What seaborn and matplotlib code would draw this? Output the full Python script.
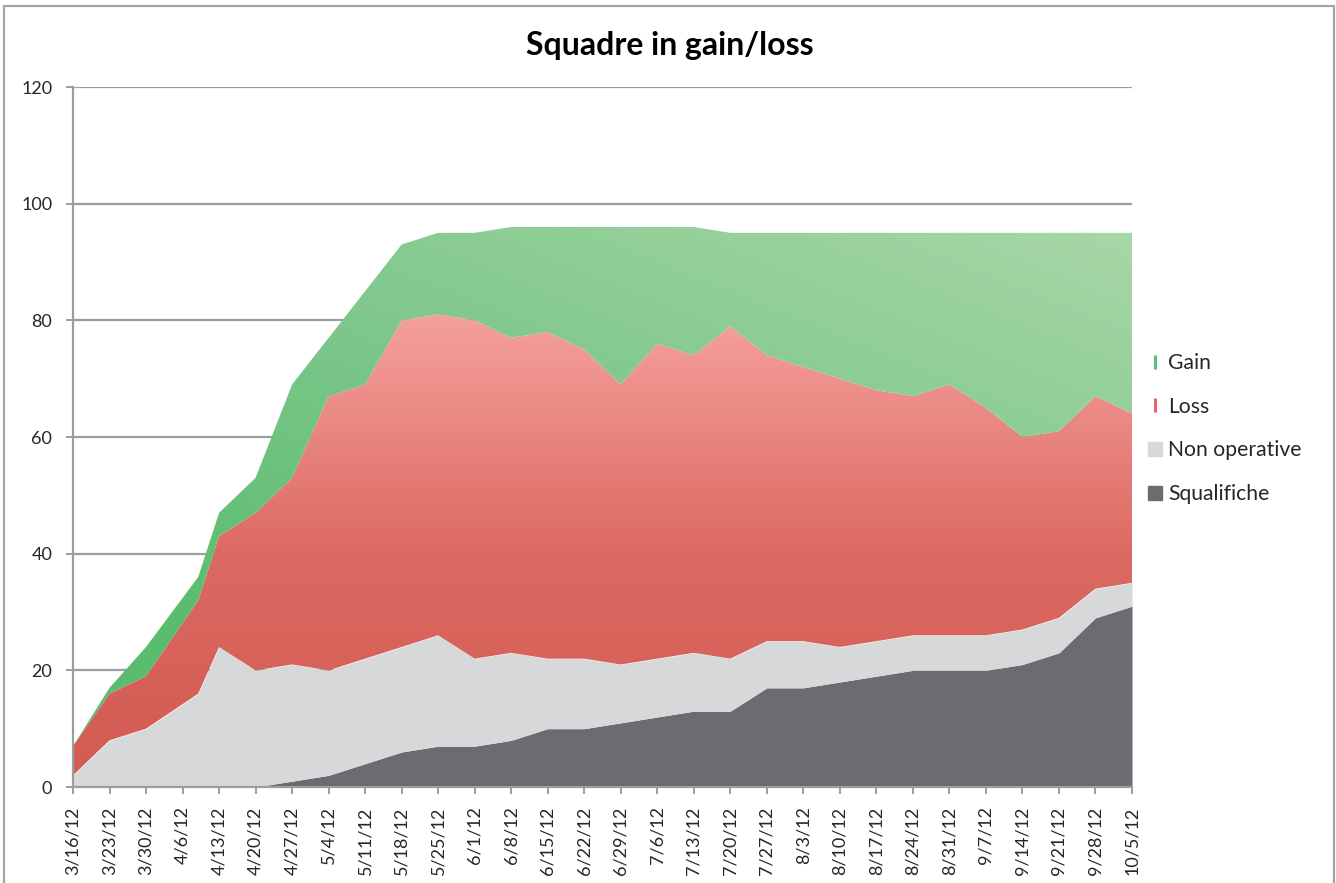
import numpy as np
import pandas as pd
import matplotlib
matplotlib.use("Agg")
import matplotlib.pyplot as plt
import matplotlib.dates as mdates
from matplotlib.colors import LinearSegmentedColormap
from matplotlib.lines import Line2D
from matplotlib.patches import Rectangle
import seaborn as sns

# ---- data (weekly counts of squads) ----
dates = ["2012-03-16", "2012-03-23", "2012-03-30", "2012-04-09", "2012-04-13",
         "2012-04-20", "2012-04-27", "2012-05-04", "2012-05-11", "2012-05-18",
         "2012-05-25", "2012-06-01", "2012-06-08", "2012-06-15", "2012-06-22",
         "2012-06-29", "2012-07-06", "2012-07-13", "2012-07-20", "2012-07-27",
         "2012-08-03", "2012-08-10", "2012-08-17", "2012-08-24", "2012-08-31",
         "2012-09-07", "2012-09-14", "2012-09-21", "2012-09-28", "2012-10-05"]
squalifiche   = [0, 0, 0, 0, 0, 0, 1, 2, 4, 6, 7, 7, 8, 10, 10,
                 11, 12, 13, 13, 17, 17, 18, 19, 20, 20, 20, 21, 23, 29, 31]
non_operative = [2, 8, 10, 16, 24, 20, 20, 18, 18, 18, 19, 15, 15, 12, 12,
                 10, 10, 10, 9, 8, 8, 6, 6, 6, 6, 6, 6, 6, 5, 4]
loss          = [5, 8, 9, 16, 19, 27, 32, 47, 47, 56, 55, 58, 54, 56, 53,
                 48, 54, 51, 57, 49, 47, 46, 43, 41, 43, 39, 33, 32, 33, 29]
gain          = [0, 1, 5, 4, 4, 6, 16, 10, 16, 13, 14, 15, 19, 18, 21,
                 27, 20, 22, 16, 21, 23, 25, 27, 28, 26, 30, 35, 34, 28, 31]

series_names = ["Squalifiche", "Non operative", "Loss", "Gain"]
title = "Squadre in gain/loss"

# ---- style ----
sns.set_theme(style="white")
plt.rcParams["font.family"] = ["Lato", "DejaVu Sans"]

W, H = 1336, 883
fig = plt.figure(figsize=(W / 100, H / 100), dpi=100)
ax = fig.add_axes([73 / W, 1 - 787 / H, (1132 - 73) / W, (787 - 87) / H])

x = mdates.date2num(pd.to_datetime(dates))
s1 = np.array(squalifiche, float)
s2 = s1 + np.array(non_operative, float)
s3 = s2 + np.array(loss, float)
s4 = s3 + np.array(gain, float)

ax.set_xlim(x[0], x[-1])
ax.set_ylim(0, 120)

grid_col = "#9B9DA1"
for yv in range(20, 121, 20):
    ax.axhline(yv, color=grid_col, lw=1.6, zorder=0.5)

# flat grey layers
ax.fill_between(x, 0, s1, color="#6B6C70", lw=0, zorder=2)
ax.fill_between(x, s1, s2, color="#D7D8DA", lw=0, zorder=2)


def gradient_fill(lower, upper, img, cmap):
    poly = ax.fill_between(x, lower, upper, facecolor="none", lw=0, zorder=2)
    im = ax.imshow(img, cmap=cmap, vmin=0, vmax=1, origin="lower",
                   extent=[x[0], x[-1], 0, 120], aspect="auto",
                   interpolation="bilinear", zorder=2)
    im.set_clip_path(poly.get_paths()[0], transform=ax.transData)
    return im


n = 300
u, v = np.meshgrid(np.linspace(0, 1, n), np.linspace(0, 1, n))

# Loss: vertical gradient, darker at the bottom
red_cmap = LinearSegmentedColormap.from_list("red", ["#D25A52", "#DC6A62", "#F59F9A", "#F9ACA8"])
gradient_fill(s2, s3, v, red_cmap)

# Gain: diagonal gradient, darker at lower left
green_cmap = LinearSegmentedColormap.from_list("green", ["#5ABC6E", "#80C88D", "#A8D7A7"])
gradient_fill(s3, s4, np.clip(0.55 * u + 0.45 * (v - 0.3) / 0.5, 0, 1), green_cmap)

ax.set_xlim(x[0], x[-1])
ax.set_ylim(0, 120)

# axes / ticks
for side in ["top", "right"]:
    ax.spines[side].set_visible(False)
for side in ["left", "bottom"]:
    ax.spines[side].set_color(grid_col)
    ax.spines[side].set_linewidth(1.6)
    ax.spines[side].set_zorder(3)

ticks = mdates.date2num(pd.date_range(dates[0], dates[-1], freq="7D"))
ax.set_xticks(ticks)
ax.set_xticklabels([f"{d.month}/{d.day}/{d.strftime('%y')}" for d in mdates.num2date(ticks)],
                   rotation=90, fontsize=13)
ax.set_yticks(range(0, 121, 20))
ax.set_yticklabels([str(t) for t in range(0, 121, 20)], fontsize=13)
ax.tick_params(axis="both", which="both", length=5, width=1.4, color=grid_col,
               direction="out", bottom=True, left=True)
ax.tick_params(axis="y", pad=10)
ax.tick_params(axis="x", pad=9)

# title
fig.text(0.5015, 1 - 45 / H, title, ha="center", va="center",
         fontsize=23, fontweight="bold", color="black")

# chart border
fig.add_artist(Rectangle((4 / W, -0.05), (1334 - 4) / W, 1 - 6 / H + 0.05,
                         transform=fig.transFigure, fill=False,
                         edgecolor="#A3A5A8", lw=1.6))

# legend (top to bottom: Gain, Loss, Non operative, Squalifiche)
handles = [
    Line2D([], [], marker="|", ls="none", color="#5DBE6F", markersize=10, markeredgewidth=2.2),
    Line2D([], [], marker="|", ls="none", color="#E06A62", markersize=10, markeredgewidth=2.2),
    Line2D([], [], marker="s", ls="none", color="#D7D8DA", markersize=10),
    Line2D([], [], marker="s", ls="none", color="#6B6C70", markersize=10),
]
leg = fig.legend(handles, series_names[::-1], loc="upper left",
                 bbox_to_anchor=(1148 / W, 1 - 353 / H), frameon=False,
                 fontsize=15.2, handlelength=0.7, handletextpad=0.25,
                 labelspacing=1.12, borderaxespad=0, borderpad=0)

fig.savefig("out.png", dpi=100)
